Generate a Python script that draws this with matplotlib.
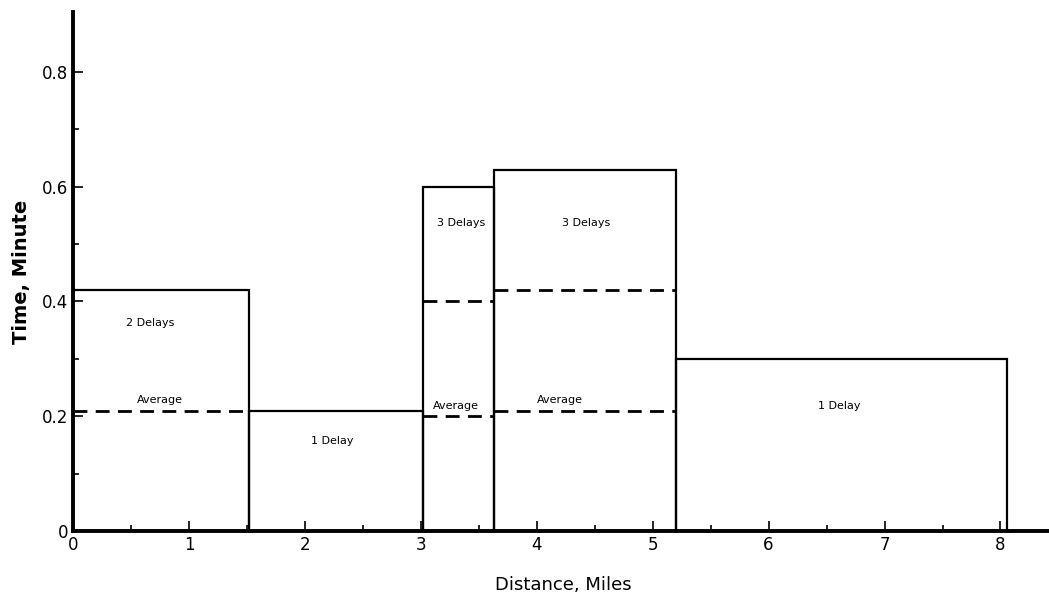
import matplotlib.pyplot as plt
from matplotlib.ticker import MultipleLocator, FixedLocator

# segment boundaries (miles) and delay time (minutes)
seg_start = [0.0, 1.52, 3.02, 3.63, 5.20]
seg_end = [1.52, 3.02, 3.63, 5.20, 8.06]
seg_time = [0.42, 0.21, 0.60, 0.63, 0.30]
delay_labels = ["2 Delays", "1 Delay", "3 Delays", "3 Delays", "1 Delay"]
delay_label_pos = [(0.67, 0.362), (2.24, 0.157), (3.35, 0.537), (4.43, 0.537), (6.61, 0.218)]

# dashed average lines: (segment index, level)
avg_seg = [0, 2, 2, 3, 3]
avg_level = [0.21, 0.40, 0.20, 0.42, 0.21]
avg_text_pos = [(0.75, 0.228), (3.30, 0.218), (4.20, 0.228)]

fig = plt.figure(figsize=(10.49, 5.99), dpi=100)
ax = fig.add_axes([0.0696, 0.1135, 0.935, 0.866])

widths = [e - s for s, e in zip(seg_start, seg_end)]
ax.bar(seg_start, seg_time, width=widths, align="edge", fill=False,
       edgecolor="black", linewidth=1.6)

for i, lvl in zip(avg_seg, avg_level):
    ax.hlines(lvl, seg_start[i], seg_end[i], colors="black",
              linestyles=(0, (5, 3)), linewidth=2.0)

for txt, (x, y) in zip(delay_labels, delay_label_pos):
    ax.text(x, y, txt, ha="center", va="center", fontsize=8)
for x, y in avg_text_pos:
    ax.text(x, y, "Average", ha="center", va="center", fontsize=8)

ax.set_xlim(0, 8.46)
ax.set_ylim(0, 0.904)
ax.spines["top"].set_visible(False)
ax.spines["right"].set_visible(False)
ax.spines["left"].set_linewidth(2.8)
ax.spines["bottom"].set_linewidth(2.8)

ax.xaxis.set_major_locator(MultipleLocator(1))
ax.xaxis.set_minor_locator(MultipleLocator(0.5))
ax.set_yticks([0, 0.2, 0.4, 0.6, 0.8], ["0", "0.2", "0.4", "0.6", "0.8"])
ax.yaxis.set_minor_locator(FixedLocator([0.1, 0.3, 0.5, 0.7]))
ax.tick_params(which="both", direction="in", width=1.2)
ax.tick_params(which="major", length=7, labelsize=12)
ax.tick_params(which="minor", length=4)

ax.set_xlabel("Distance, Miles", fontsize=13, labelpad=16)
ax.set_ylabel("Time, Minute", fontsize=14, fontweight="bold", labelpad=8)

fig.savefig("out.png", dpi=100)
